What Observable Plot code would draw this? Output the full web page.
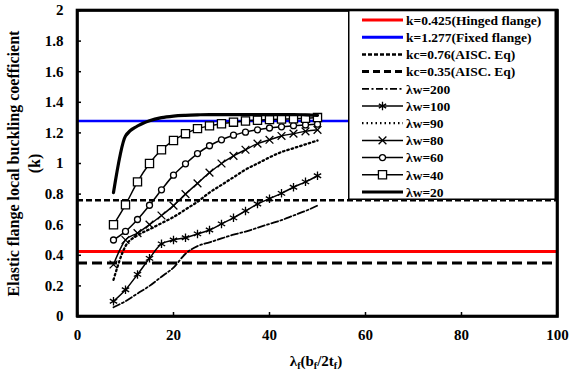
<!DOCTYPE html>
<html>
<head>
<meta charset="utf-8">
<script src="https://cdn.jsdelivr.net/npm/d3@7"></script>
<script src="https://cdn.jsdelivr.net/npm/@observablehq/plot@0.6"></script>
<style>
  body { margin: 0; background: #fff; }
</style>
</head>
<body>
<div id="plot"></div>
<script>
// Flange slenderness λf = bf/2tf at which k was computed
const lambdaF = [7.5, 10, 12.5, 15, 17.5, 20, 22.5, 25, 27.5, 30, 32.5, 35, 37.5, 40, 42.5, 45, 47.5, 50];

// Elastic flange local buckling coefficient k, one list per web slenderness λw
const kW200 = [0.06, 0.10, 0.15, 0.20, 0.26, 0.32, 0.41, 0.46, 0.485, 0.51, 0.535, 0.555, 0.58, 0.605, 0.63, 0.66, 0.69, 0.725];
const kW100 = [0.10, 0.175, 0.275, 0.38, 0.475, 0.50, 0.515, 0.54, 0.565, 0.605, 0.645, 0.69, 0.735, 0.77, 0.805, 0.845, 0.88, 0.92];
const kW90  = [0.24, 0.46, 0.53, 0.57, 0.61, 0.65, 0.70, 0.75, 0.81, 0.86, 0.91, 0.96, 1.00, 1.04, 1.075, 1.10, 1.125, 1.15];
const kW80  = [0.34, 0.50, 0.545, 0.60, 0.66, 0.725, 0.80, 0.87, 0.94, 1.00, 1.05, 1.09, 1.13, 1.155, 1.18, 1.195, 1.21, 1.22];
const kW60  = [0.50, 0.556, 0.634, 0.727, 0.828, 0.924, 0.998, 1.065, 1.116, 1.155, 1.185, 1.205, 1.22, 1.232, 1.24, 1.247, 1.252, 1.257];
const kW40  = [0.60, 0.73, 0.88, 1.00, 1.09, 1.15, 1.195, 1.228, 1.246, 1.26, 1.27, 1.278, 1.283, 1.287, 1.29, 1.292, 1.295, 1.30];
const kW20  = [0.81, 1.18, 1.245, 1.28, 1.30, 1.31, 1.315, 1.318, 1.32, 1.32, 1.32, 1.32, 1.32, 1.32, 1.32, 1.32, 1.318, 1.315];

// Reference levels
const kHinged = 0.425;
const kFixed = 1.277;
const kcAisc1 = 0.76;
const kcAisc2 = 0.35;

// Axes: extents, ticks and titles
const xDomain = [0, 100];
const yDomain = [0, 2];
const xTicks = [0, 20, 40, 60, 80, 100];
const yTicks = [0, 0.2, 0.4, 0.6, 0.8, 1, 1.2, 1.4, 1.6, 1.8, 2];
const yTitle = "Elastic flange local buckling coefficient\n(k)";
const xTitleParts = [["λ", false], ["f", true], ["(b", false], ["f", true], ["/2t", false], ["f", true], [")", false]];

// Legend entries, top to bottom
const legendLabels = [
  "k=0.425(Hinged flange)",
  "k=1.277(Fixed flange)",
  "kc=0.76(AISC. Eq)",
  "kc=0.35(AISC. Eq)",
  "λw=200",
  "λw=100",
  "λw=90",
  "λw=80",
  "λw=60",
  "λw=40",
  "λw=20"
];

// Styling for each series
const series = [
  { name: "λw=200", values: kW200, width: 1.8, dash: "7,2.5,2,2.5", symbol: null },
  { name: "λw=100", values: kW100, width: 1.5, dash: null, symbol: "asterisk", r: 4 },
  { name: "λw=90",  values: kW90,  width: 2.3, dash: "1.5,3", symbol: null },
  { name: "λw=80",  values: kW80,  width: 1.5, dash: null, symbol: "times", r: 3.6 },
  { name: "λw=60",  values: kW60,  width: 1.5, dash: null, symbol: "circle", r: 3 },
  { name: "λw=40",  values: kW40,  width: 1.5, dash: null, symbol: "square", r: 4.6 },
  { name: "λw=20",  values: kW20,  width: 3.2, dash: null, symbol: null }
];

const rows = s => lambdaF.map((x, i) => ({ x, k: s.values[i] }));

const fontFamily = "Liberation Serif";

const marks = [
  Plot.ruleY([kHinged], { stroke: "#ff0000", strokeWidth: 3 }),
  Plot.ruleY([kFixed], { stroke: "#0000ff", strokeWidth: 2.5 }),
  Plot.ruleY([kcAisc1], { stroke: "#000", strokeWidth: 2.5, strokeDasharray: "6,3" }),
  Plot.ruleY([kcAisc2], { stroke: "#000", strokeWidth: 3, strokeDasharray: "10,5" })
];

for (const s of series) {
  marks.push(Plot.line(rows(s), {
    x: "x", y: "k", stroke: "#000", strokeWidth: s.width,
    strokeDasharray: s.dash ?? undefined, curve: "monotone-x"
  }));
  if (s.symbol) {
    const hollow = s.symbol === "circle" || s.symbol === "square";
    marks.push(Plot.dot(rows(s), {
      x: "x", y: "k", symbol: s.symbol, r: s.r,
      stroke: "#000", strokeWidth: 1.3, fill: hollow ? "#fff" : "none"
    }));
  }
}

marks.push(
  Plot.axisX({ ticks: xTicks, tickSize: 0, tickPadding: 13, fontSize: 15, label: null, tickFormat: d => String(d) }),
  Plot.axisY({ ticks: yTicks, tickSize: 0, tickPadding: 14, fontSize: 15, label: null, tickFormat: d => String(+d.toFixed(1)) }),
  Plot.text([yTitle], {
    text: d => d, frameAnchor: "left", rotate: -90, dx: -55,
    textAnchor: "middle", lineAnchor: "middle", lineHeight: 1.35, fontSize: 16
  }),
  // short inward ticks on the bottom and left edges
  Plot.ruleX(xTicks, { y1: yDomain[0], y2: yDomain[0], insetBottom: 4, stroke: "#000", strokeWidth: 1.5 }),
  Plot.ruleY(yTicks, { x1: xDomain[0], x2: xDomain[0], insetRight: -4, stroke: "#000", strokeWidth: 1.5 }),
  // plot-area border, drawn last so it sits on top
  Plot.frame({ stroke: "#000", strokeWidth: 2.6 })
);

const chart = Plot.plot({
  width: 574,
  height: 371,
  marginLeft: 77,
  marginRight: 17,
  marginTop: 10,
  marginBottom: 55,
  style: { fontFamily, fontWeight: "bold", fontSize: "15px", color: "#000", background: "#fff" },
  x: { domain: xDomain },
  y: { domain: yDomain },
  marks
});
document.getElementById("plot").appendChild(chart);

// x-axis title with subscripts, centred under the plot area
const sx = chart.scale("x"), sy = chart.scale("y");
const [xl, xr] = sx.range, [yb, yt] = sy.range;
const svg = d3.select(chart);
const xTitle = svg.append("text")
  .attr("x", (xl + xr) / 2 - 1).attr("y", 366)
  .attr("text-anchor", "middle").attr("font-size", 15).attr("font-weight", "bold")
  .attr("font-family", fontFamily).attr("fill", "#000");
let sunk = false;
for (const [part, isSub] of xTitleParts) {
  const shift = isSub === sunk ? 0 : (isSub ? 3 : -3);
  xTitle.append("tspan").attr("dy", shift).attr("font-size", isSub ? 10 : 15).text(part);
  sunk = isSub;
}

// Legend box in the upper right corner of the frame
const lw = 208, lh = 191, rowStep = 17.2, firstRow = 11;
const leg = svg.append("g").attr("transform", `translate(${xr - lw - 1},${yt - 1})`);
leg.append("rect").attr("x", 0.75).attr("y", 0.75).attr("width", lw - 1.5).attr("height", lh - 1.5)
  .attr("fill", "#fff").attr("stroke", "#000").attr("stroke-width", 1.5);

const sampleStyles = [
  { stroke: "#ff0000", width: 3 },
  { stroke: "#0000ff", width: 3 },
  { stroke: "#000", width: 2.5, dash: "4,2" },
  { stroke: "#000", width: 3, dash: "7,4" },
  ...series.map(s => ({ stroke: "#000", width: s.width, dash: s.dash, symbol: s.symbol, r: s.r }))
];

const x0 = 14, x1 = 55;
legendLabels.forEach((label, i) => {
  const st = sampleStyles[i];
  const y = firstRow + i * rowStep;
  leg.append("line").attr("x1", x0).attr("x2", x1).attr("y1", y).attr("y2", y)
    .attr("stroke", st.stroke).attr("stroke-width", st.width)
    .attr("stroke-dasharray", st.dash || null);
  if (st.symbol) {
    const sym = { asterisk: d3.symbolAsterisk, times: d3.symbolTimes, circle: d3.symbolCircle, square: d3.symbolSquare }[st.symbol];
    const hollow = st.symbol === "circle" || st.symbol === "square";
    leg.append("path")
      .attr("d", d3.symbol(sym, Math.PI * st.r * st.r)())
      .attr("transform", `translate(${(x0 + x1) / 2},${y})`)
      .attr("fill", hollow ? "#fff" : "none").attr("stroke", "#000").attr("stroke-width", 1.3);
  }
  leg.append("text").attr("x", 58).attr("y", y).attr("dy", "0.35em")
    .attr("font-size", 13.5).attr("font-weight", "bold").attr("text-anchor", "start")
    .attr("font-family", fontFamily).attr("fill", "#000")
    .text(label);
});

// outer border of the plot area, on top of everything except nothing else
svg.append("rect").attr("x", xl).attr("y", yt).attr("width", xr - xl).attr("height", yb - yt)
  .attr("fill", "none").attr("stroke", "#000").attr("stroke-width", 2.6);
</script>
</body>
</html>
